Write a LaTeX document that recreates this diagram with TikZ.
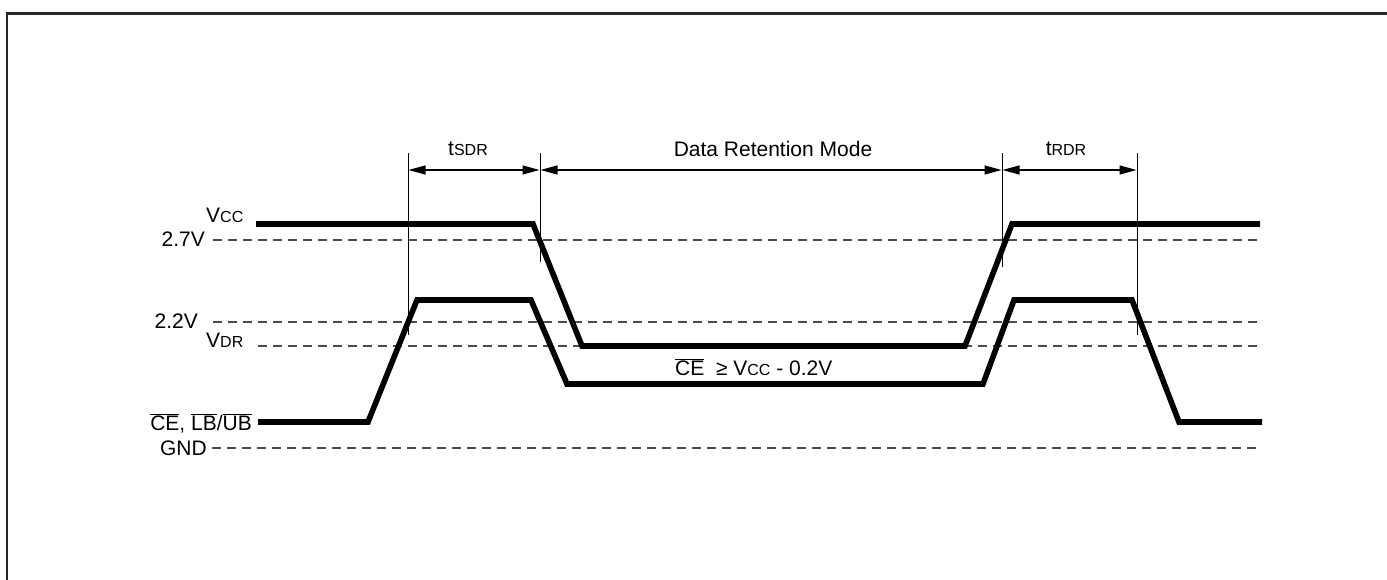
\documentclass[tikz,border=0pt]{standalone}
\usepackage{fontspec}
\setmainfont{Liberation Sans}
\usetikzlibrary{arrows.meta}
\newcommand{\smc}[1]{{\fontsize{16}{17}\selectfont #1}}
\newcommand{\ovl}[1]{$\overline{\mbox{#1}}$}
\begin{document}
\begin{tikzpicture}[x=1pt,y=-1pt,
  frame/.style={draw=black!85,line width=2.6pt},
  wave/.style={draw=black,line width=5.6pt,miter limit=10},
  level/.style={draw=black!70,line width=1.4pt,dash pattern=on 9pt off 6pt},
  marker/.style={draw=black,line width=1pt},
  span/.style={draw=black,line width=1.3pt,{Triangle[length=17pt,width=9pt]}-{Triangle[length=17pt,width=9pt]}},
  lbl/.style={inner sep=0pt,font=\fontsize{21}{22}\selectfont}]
\useasboundingbox (0,0) rectangle (1387,580);
\draw[frame] (7,580) -- (7,13.5) -- (1387,13.5);
% levels
\coordinate (l27a) at (213,240); \coordinate (l27b) at (1262,240);
\coordinate (l22a) at (213,322); \coordinate (l22b) at (1262,322);
\coordinate (ldra) at (258,346); \coordinate (ldrb) at (1262,346);
\coordinate (lgna) at (212,448); \coordinate (lgnb) at (1262,448);
\draw[level] (l27a) -- (l27b);
\draw[level] (l22a) -- (l22b);
\draw[level] (ldra) -- (ldrb);
\draw[level] (lgna) -- (lgnb);
% Vcc waveform
\coordinate (v0) at (256,224); \coordinate (v1) at (533,224);
\coordinate (v2) at (582,346); \coordinate (v3) at (965,346);
\coordinate (v4) at (1012,224); \coordinate (v5) at (1260,224);
\draw[wave] (v0) -- (v1) -- (v2) -- (v3) -- (v4) -- (v5);
% CE waveform
\coordinate (c0) at (258,422); \coordinate (c1) at (368,422);
\coordinate (c2) at (417,300); \coordinate (c3) at (531,300);
\coordinate (c4) at (567,384); \coordinate (c5) at (983,384);
\coordinate (c6) at (1014,300); \coordinate (c7) at (1132,300);
\coordinate (c8) at (1179,422); \coordinate (c9) at (1262,422);
\draw[wave] (c0) -- (c1) -- (c2) -- (c3) -- (c4) -- (c5) -- (c6) -- (c7) -- (c8) -- (c9);
% markers
\coordinate (m1t) at (408,153); \coordinate (m1b) at (408,335);
\coordinate (m2t) at (540,153); \coordinate (m2b) at (540,262);
\coordinate (m3t) at (1002,153); \coordinate (m3b) at (1002,267);
\coordinate (m4t) at (1137,153); \coordinate (m4b) at (1137,335);
\draw[marker] (m1t) -- (m1b);
\draw[marker] (m2t) -- (m2b);
\draw[marker] (m3t) -- (m3b);
\draw[marker] (m4t) -- (m4b);
% spans
\coordinate (a1) at (408.5,170); \coordinate (a2) at (539.5,170);
\coordinate (a3) at (540.5,170); \coordinate (a4) at (1001.5,170);
\coordinate (a5) at (1002.5,170); \coordinate (a6) at (1136.5,170);
\draw[span] (a1) -- (a2);
\draw[span] (a3) -- (a4);
\draw[span] (a5) -- (a6);
% labels
\node[lbl,anchor=base] (tsdr) at (468,156) {t\smc{SDR}};
\node[lbl,anchor=base] (drm) at (773,157) {Data Retention Mode};
\node[lbl,anchor=base] (trdr) at (1066,156) {t\smc{RDR}};
\node[lbl,anchor=base west] (vcc) at (206,223) {V\smc{CC}};
\node[lbl,anchor=base east] (v27) at (205,247) {2.7V};
\node[lbl,anchor=base east] (v22) at (198,328) {2.2V};
\node[lbl,anchor=base west] (vdr) at (206,347) {V\smc{DR}};
\node[lbl,anchor=base east] (ce) at (252,430) {\ovl{CE}, \ovl{LB}/\ovl{UB}};
\node[lbl,anchor=base east] (gnd) at (207,455) {GND};
\node[lbl,anchor=base west] (cond) at (675,375) {\ovl{CE}\ \ ≥ V\smc{CC} - 0.2V};
\end{tikzpicture}
\end{document}
